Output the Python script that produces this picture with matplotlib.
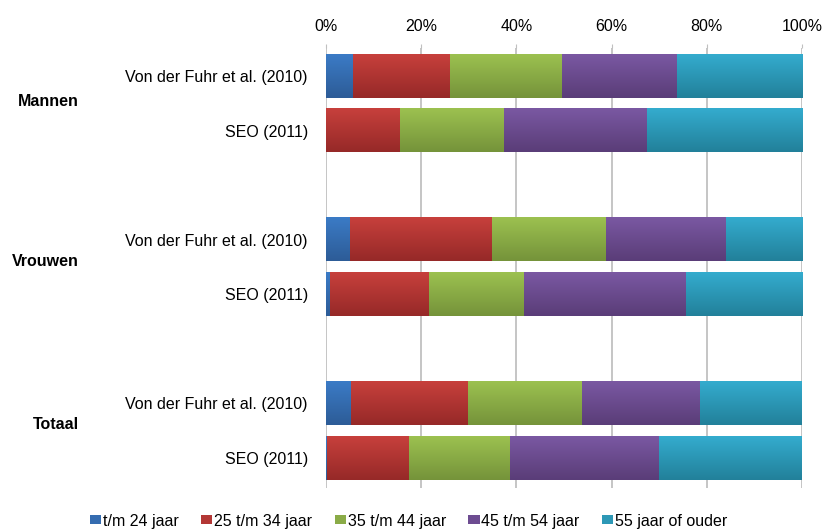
import matplotlib.pyplot as plt
import numpy as np
from matplotlib.colors import LinearSegmentedColormap
from matplotlib.patches import Patch

plt.rcParams['font.family'] = ['Liberation Sans', 'DejaVu Sans']

# rows from top to bottom
labels = ["Von der Fuhr et al. (2010)", "SEO (2011)",
          "Von der Fuhr et al. (2010)", "SEO (2011)",
          "Von der Fuhr et al. (2010)", "SEO (2011)"]
groups = ["Mannen", "Vrouwen", "Totaal"]
series = ["t/m 24 jaar", "25 t/m 34 jaar", "35 t/m 44 jaar", "45 t/m 54 jaar", "55 jaar of ouder"]

tm24 = [5.7, 0.0, 5.0, 0.8, 5.3, 0.2]
t25_34 = [20.4, 15.5, 29.9, 20.8, 24.5, 17.2]
t35_44 = [23.5, 21.9, 23.9, 20.0, 24.0, 21.3]
t45_54 = [24.1, 30.0, 25.2, 34.0, 24.8, 31.3]
t55plus = [26.3, 32.6, 16.0, 24.4, 21.4, 30.0]

ticks = [0, 20, 40, 60, 80, 100]

# (top colour, bottom colour) for the gradient look
colours = [("#3b7bc6", "#2d5c97"),
           ("#c7403c", "#962928"),
           ("#9cc150", "#75933a"),
           ("#7a58a2", "#5a3d78"),
           ("#34acce", "#22809a")]
legend_colours = ["#356cb0", "#b33735", "#8aab47", "#6d4c91", "#2d98b6"]

data = [tm24, t25_34, t35_44, t45_54, t55plus]
ypos = [0, 1, 3, 4, 6, 7]
group_ypos = [0.47, 3.39, 6.38]
h = 0.79

fig = plt.figure(figsize=(8.24, 5.29), dpi=100)
ax = fig.add_axes([0.3956, 0.0775, 0.5777, 0.8318])

left = np.zeros(len(labels))
for vals, (c1, c2), name in zip(data, colours, series):
    vals = np.array(vals)
    cmap = LinearSegmentedColormap.from_list(name, [c1, c2])
    grad = np.linspace(0, 1, 64).reshape(-1, 1)
    for y, l, w in zip(ypos, left, vals):
        if w <= 0:
            continue
        ax.imshow(grad, cmap=cmap, aspect='auto', interpolation='bilinear',
                  extent=(l, l + w, y + h / 2, y - h / 2), zorder=3)
    left += vals

ax.set_xlim(0, 100)
ax.set_ylim(7.55, -0.52)
ax.set_xticks(ticks)
ax.set_xticklabels([f"{t}%" for t in ticks])
ax.xaxis.tick_top()
ax.tick_params(axis='x', length=3, color='#c0c0c0', pad=7, labelsize=11.5)
ax.set_yticks(ypos)
ax.set_yticklabels(labels)
ax.tick_params(axis='y', length=0, pad=13, labelsize=11.5)
ax.grid(axis='x', color='#c0c0c0', linewidth=1.3, zorder=0)
ax.set_axisbelow(True)
for s in ax.spines.values():
    s.set_visible(False)

for g, gy in zip(groups, group_ypos):
    ax.text(-0.519, gy, g, transform=ax.get_yaxis_transform(),
            ha='right', va='center', fontsize=11.5, fontweight='bold')

handles = [Patch(facecolor=c, label=s) for c, s in zip(legend_colours, series)]
fig.legend(handles=handles, loc='center', bbox_to_anchor=(0.496, 0.015), ncol=5,
           frameon=False, fontsize=11.5, handlelength=0.7, handleheight=0.5,
           handletextpad=0.12, columnspacing=1.4)

fig.savefig("out.png", dpi=100)
